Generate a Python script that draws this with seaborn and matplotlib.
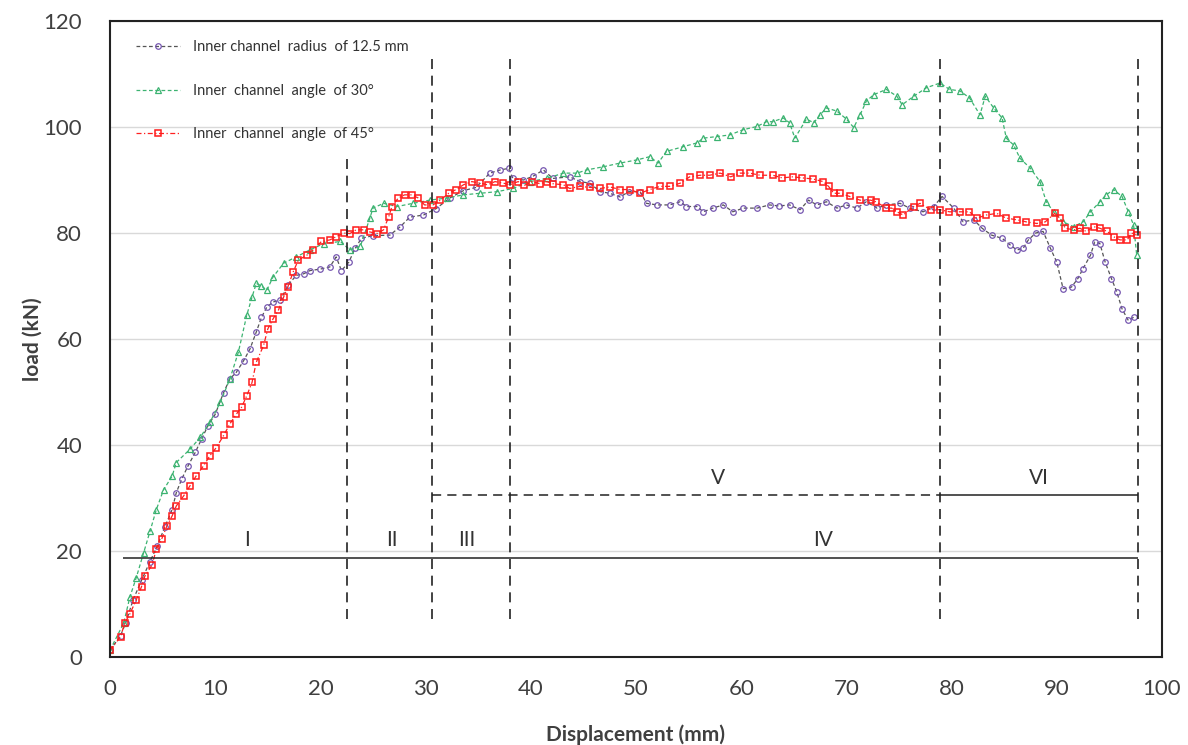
import numpy as np
import pandas as pd
import matplotlib
matplotlib.use('Agg')
import matplotlib.pyplot as plt
import seaborn as sns

# radius 12.5 mm (purple circles)
rad_x = [0, 1.0, 1.5, 2.2, 3.0, 3.8, 4.5, 5.2, 5.9, 6.3, 6.8, 7.4, 8.1, 8.7, 9.3, 10.0, 10.8, 11.4, 12.0, 12.7,
         13.3, 13.9, 14.4, 14.9, 15.5, 16.2, 16.9, 17.7, 18.4, 19.0, 20.0, 20.9, 21.5, 22.0, 22.7, 23.3, 23.9, 25.0,
         26.6, 27.6, 28.5, 29.8, 31.0, 32.3, 33.6, 34.8, 36.1, 37.1, 37.9, 38.3, 39.3, 40.2, 41.2, 42.1, 43.7, 44.7,
         45.6, 46.6, 47.5, 48.5, 49.3, 50.4, 51.0, 52.0, 53.2, 54.2, 54.8, 55.8, 56.4, 57.3, 58.3, 59.2, 60.2, 61.5,
         62.7, 63.6, 64.6, 65.6, 66.4, 67.2, 68.1, 69.1, 70.0, 71.0, 71.9, 72.9, 73.8, 75.1, 76.0, 77.3, 78.3, 79.1,
         80.2, 81.1, 82.1, 82.9, 83.8, 84.8, 85.6, 86.2, 86.8, 87.3, 88.0, 88.7, 89.4, 90.0, 90.6, 91.4, 92.0, 92.5,
         93.2, 93.6, 94.1, 94.6, 95.2, 95.7, 96.2, 96.8, 97.3]
rad_y = [1.3, 4.0, 6.5, 10.8, 14.5, 18.0, 21.0, 24.5, 27.8, 31.0, 33.5, 36.0, 38.6, 41.1, 43.6, 45.8, 49.9, 52.5, 53.7,
         55.9, 58.1, 61.3, 64.1, 66.0, 67.0, 67.3, 70.1, 72.0, 72.3, 72.9, 73.2, 73.6, 75.5, 72.9, 74.5, 77.1, 79.0,
         79.5, 79.6, 81.2, 83.0, 83.4, 84.6, 86.6, 88.0, 88.6, 91.3, 91.9, 92.2, 90.3, 90.0, 90.7, 91.9, 90.3, 90.6,
         89.7, 89.4, 87.8, 87.5, 86.8, 87.8, 87.8, 85.6, 85.3, 85.3, 85.9, 85.0, 85.0, 84.0, 84.7, 85.3, 84.0, 84.7,
         84.7, 85.3, 85.1, 85.3, 84.4, 86.2, 85.3, 85.9, 84.7, 85.3, 84.7, 85.9, 84.7, 85.3, 85.6, 84.7, 84.0, 85.0,
         86.9, 84.7, 82.1, 82.5, 80.9, 79.6, 79.0, 77.7, 76.8, 77.1, 78.7, 80.0, 80.3, 77.1, 74.5, 69.5, 69.8, 71.4,
         73.3, 75.8, 78.3, 78.0, 74.5, 71.4, 68.9, 65.7, 63.5, 64.1]

# angle 30 deg (green triangles)
a30_x = [0, 1.3, 1.9, 2.5, 3.2, 3.8, 4.4, 5.1, 5.9, 6.3, 7.6, 8.6, 9.5, 10.5, 11.4, 12.2, 13.0, 13.5, 13.9, 14.4,
         14.9, 15.5, 16.5, 17.7, 19.0, 20.3, 21.9, 22.8, 23.8, 24.7, 25.0, 26.0, 27.3, 28.8, 30.4, 32.0, 33.6, 35.2,
         36.8, 38.3, 39.9, 41.5, 43.1, 44.4, 45.3, 46.9, 48.5, 50.1, 51.3, 52.1, 52.9, 54.5, 55.8, 56.4, 57.7, 58.9,
         60.2, 61.5, 62.4, 63.0, 64.0, 64.6, 65.1, 66.2, 66.9, 67.5, 68.1, 69.1, 70.0, 70.7, 71.3, 71.9, 72.6, 73.8,
         74.8, 75.3, 76.4, 77.6, 78.9, 79.8, 80.8, 81.7, 82.7, 83.2, 84.0, 84.8, 85.2, 85.9, 86.5, 87.5, 88.4, 89.0,
         89.7, 90.6, 91.6, 92.5, 93.2, 94.1, 94.7, 95.4, 96.2, 96.8, 97.3, 97.6]
a30_y = [1.3, 6.4, 11.4, 15.0, 19.7, 23.7, 27.8, 31.6, 34.1, 36.7, 39.2, 41.5, 44.3, 48.1, 52.5, 57.5, 64.5, 67.9,
         70.5, 70.0, 69.2, 71.7, 74.3, 75.5, 76.8, 78.0, 78.4, 76.8, 77.5, 82.8, 84.7, 85.6, 85.0, 85.6, 86.2, 86.6,
         87.2, 87.5, 87.8, 88.4, 89.7, 90.3, 91.3, 91.3, 91.9, 92.5, 93.2, 93.8, 94.4, 93.2, 95.4, 96.3, 97.0, 97.9,
         98.2, 98.5, 99.5, 100.1, 101.0, 101.0, 101.7, 100.8, 97.9, 101.5, 100.8, 102.3, 103.6, 103.0, 101.5, 99.9,
         102.3, 104.9, 106.1, 107.1, 105.8, 104.2, 105.8, 107.4, 108.3, 107.1, 106.8, 105.5, 102.3, 105.8, 103.6,
         101.7, 97.9, 96.6, 94.1, 92.2, 89.7, 85.9, 84.0, 82.1, 81.2, 82.1, 84.0, 85.9, 87.2, 88.2, 86.9, 84.0, 81.5,
         75.8]

# angle 45 deg (red squares)
a45_x = [0, 1.0, 1.4, 1.9, 2.5, 3.0, 3.3, 4.0, 4.4, 4.9, 5.4, 5.9, 6.3, 7.0, 7.6, 8.2, 8.9, 9.5, 10.1, 10.8, 11.4,
         12.0, 12.5, 13.0, 13.5, 13.9, 14.6, 15.0, 15.5, 16.0, 16.5, 16.9, 17.4, 17.9, 18.7, 19.3, 20.1, 20.9, 21.5,
         22.2, 22.8, 23.4, 24.1, 24.7, 25.4, 26.0, 26.5, 26.8, 27.4, 28.0, 28.7, 29.3, 29.9, 30.7, 31.4, 32.2, 32.9,
         33.6, 34.4, 35.2, 35.9, 36.6, 37.4, 38.0, 38.8, 39.4, 40.1, 40.9, 41.5, 42.1, 43.1, 43.7, 44.7, 45.6, 46.6,
         47.5, 48.5, 49.4, 50.4, 51.3, 52.3, 53.2, 54.2, 55.1, 56.1, 57.0, 58.0, 59.0, 59.9, 60.8, 61.8, 63.0, 63.9,
         64.9, 65.8, 66.8, 67.8, 68.3, 68.8, 69.4, 70.3, 71.3, 72.3, 72.8, 73.8, 74.3, 74.8, 75.4, 76.4, 77.0, 78.0,
         78.9, 79.8, 80.8, 81.7, 82.4, 83.3, 84.3, 85.2, 86.2, 87.1, 88.1, 88.9, 89.8, 90.3, 90.8, 91.6, 92.2, 92.8,
         93.5, 94.1, 94.8, 95.4, 96.0, 96.7, 97.1, 97.6]
a45_y = [1.3, 3.8, 6.4, 8.2, 10.8, 13.3, 15.2, 17.4, 20.3, 22.2, 24.7, 26.6, 28.5, 30.4, 32.3, 34.2, 36.1, 38.0,
         39.5, 41.8, 44.0, 45.8, 47.1, 49.3, 51.8, 55.6, 58.8, 61.9, 63.8, 65.4, 67.9, 69.8, 72.6, 74.9, 75.8, 76.8,
         78.4, 78.7, 79.3, 80.0, 79.9, 80.6, 80.6, 80.2, 79.9, 80.6, 83.1, 85.0, 86.6, 87.2, 87.2, 86.6, 85.3, 85.3,
         86.2, 87.5, 88.2, 89.1, 89.7, 89.4, 89.1, 89.7, 89.4, 89.1, 89.7, 89.0, 89.7, 89.3, 89.7, 89.3, 89.1, 88.4,
         88.8, 88.6, 88.4, 88.7, 88.2, 88.2, 87.5, 88.2, 88.8, 88.8, 89.4, 90.6, 90.9, 90.9, 91.3, 90.6, 91.3, 91.3,
         90.9, 90.9, 90.4, 90.6, 90.4, 90.2, 89.7, 88.8, 87.5, 87.5, 86.9, 86.2, 86.2, 85.9, 84.7, 84.7, 84.0, 83.4,
         85.0, 85.6, 84.4, 84.4, 84.0, 84.0, 84.0, 82.8, 83.4, 83.7, 82.8, 82.5, 82.1, 81.8, 82.1, 83.7, 82.8, 80.9,
         80.6, 80.9, 80.3, 81.2, 80.9, 80.3, 79.3, 78.7, 78.7, 80.0, 79.6]

labels = ['Inner channel  radius  of 12.5 mm', 'Inner  channel  angle  of 30°', 'Inner  channel  angle  of 45°']

# stage boundaries and labels
stage_x = [22.5, 30.6, 38.0, 78.9, 97.7]
stage_top = [94, 113.6, 113.6, 113.6, 113.6]
stage_names = ['I', 'II', 'III', 'IV', 'V', 'VI']
stage_name_x = [13.0, 26.8, 33.9, 67.8, 57.8, 88.3]
stage_name_y = [22.0, 22.0, 22.0, 22.0, 33.8, 33.8]

sns.set_style('white')
plt.rcParams['font.family'] = ['Lato', 'DejaVu Sans']

fig = plt.figure(figsize=(11.88, 7.45), dpi=100)
ax = fig.add_axes([0.0926, 0.1181, 0.8855, 0.8537])

df_rad = pd.DataFrame({'x': rad_x, 'y': rad_y})
df_30 = pd.DataFrame({'x': a30_x, 'y': a30_y})
df_45 = pd.DataFrame({'x': a45_x, 'y': a45_y})

sns.lineplot(data=df_rad, x='x', y='y', ax=ax, sort=False, color='#555555', lw=0.9,
             linestyle=(0, (3, 2)), marker='o', markersize=4, mfc='none', mec='#7657b0', mew=0.9,
             label=labels[0])
sns.lineplot(data=df_30, x='x', y='y', ax=ax, sort=False, color='#3cb371', lw=0.9,
             linestyle=(0, (3, 2)), marker='^', markersize=4, mfc='none', mec='#3cb371', mew=0.9,
             label=labels[1])
sns.lineplot(data=df_45, x='x', y='y', ax=ax, sort=False, color='#ff2020', lw=0.9,
             linestyle=(0, (4, 2, 1, 2)), marker='s', markersize=5, mfc='none', mec='#ff1a1a', mew=1.1,
             label=labels[2])

# stage markers
for sx, top in zip(stage_x, stage_top):
    ax.vlines(sx, 7.2, top, colors='#222222', linestyles=(0, (6, 4)), lw=1.2)
ax.hlines(18.7, 1.2, 97.7, colors='#222222', lw=1.1)
ax.hlines(30.5, 30.6, 78.9, colors='#222222', linestyles=(0, (6, 4)), lw=1.1)
ax.hlines(30.5, 78.9, 97.7, colors='#222222', lw=1.1)
for name, tx, ty in zip(stage_names, stage_name_x, stage_name_y):
    ax.text(tx, ty, name, ha='center', va='center', fontsize=15, color='#333333')

ax.set_xlim(0, 100)
ax.set_ylim(0, 120)
ax.set_xticks(np.arange(0, 101, 10))
ax.set_yticks(np.arange(0, 121, 20))
ax.yaxis.grid(True, color='#d9d9d9', lw=1)
ax.xaxis.grid(False)
ax.tick_params(direction='in', length=5, width=1, labelsize=16, labelcolor='#404040')
ax.tick_params(axis='y', pad=20)
ax.tick_params(axis='x', pad=16)
for sp in ax.spines.values():
    sp.set_color('#222222')
    sp.set_linewidth(1.5)

ax.set_xlabel('Displacement (mm)', fontsize=15, fontweight='bold', color='#404040', labelpad=18)
ax.set_ylabel('load (kN)', fontsize=15, fontweight='bold', color='#404040', labelpad=1)

ax.legend(loc='upper left', bbox_to_anchor=(0.012, 0.99), frameon=False, fontsize=10.5,
          labelspacing=2.0, handlelength=3.0, handletextpad=0.9, labelcolor='#333333')

fig.savefig('out.png', dpi=100)
